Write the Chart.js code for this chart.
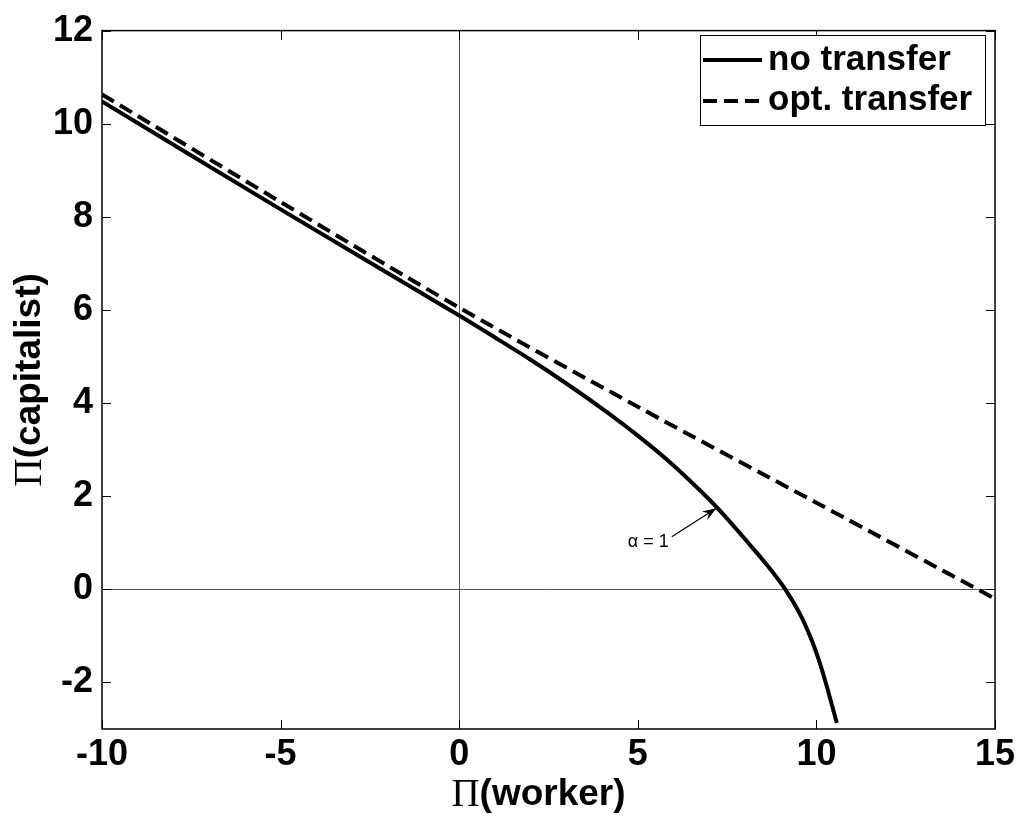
<!DOCTYPE html>
<html>
<head>
<meta charset="utf-8">
<script src="https://cdn.jsdelivr.net/npm/chart.js@4/dist/chart.umd.min.js"></script>
<style>
  html, body { margin: 0; padding: 0; background: #fff; }
  #wrap { width: 1020px; height: 816px; }
</style>
</head>
<body>
<div id="wrap"><canvas id="grafico" width="1020" height="816"></canvas></div>
<script>
// valores
const workerSemTransf = [-10, -5, 0, 1, 2, 3, 4, 5, 6, 7, 7.5, 8.09, 8.64, 9.13, 9.52, 9.82, 10.06, 10.26, 10.44, 10.57];
const capitalSemTransf = [10.48, 8.16, 5.88, 5.41, 4.93, 4.42, 3.88, 3.3, 2.66, 1.93, 1.52, 1.0, 0.5, 0, -0.5, -1, -1.5, -2, -2.5, -2.87];

const workerOptTransf = [-10, -5, 0, 5, 10, 15];
const capitalOptTransf = [10.63, 8.32, 6.05, 3.92, 1.86, -0.2];

const xTicks = [-10, -5, 0, 5, 10, 15];
const yTicks = [-2, 0, 2, 4, 6, 8, 10, 12];
const legendaLabels = ['no transfer', 'opt. transfer'];
const tituloX = '(worker)';
const tituloY = '(capitalist)';

const fonte = '"Liberation Sans", Arial, sans-serif';
const fonteSerif = '"Liberation Serif", "Times New Roman", serif';

function pares(xs, ys) {
    return xs.map((x, i) => ({ x: x, y: ys[i] }));
}

// desenha "Π" em serifa + resto em negrito, centrado em (cx, cy)
function tituloPi(ctx, texto, cx, cy) {
    ctx.font = '39px ' + fonteSerif;
    const wPi = ctx.measureText('\u03a0').width;
    ctx.font = 'bold 37px ' + fonte;
    const wTx = ctx.measureText(texto).width;
    let x = cx - (wPi + wTx) / 2;
    ctx.textAlign = 'left';
    ctx.textBaseline = 'middle';
    ctx.font = '39px ' + fonteSerif;
    ctx.fillText('\u03a0', x, cy + 1);
    ctx.font = 'bold 37px ' + fonte;
    ctx.fillText(texto, x + wPi, cy);
}

// moldura, ticks para dentro, títulos, legenda e anotação alfa
const extras = {
    id: 'extras',
    afterDatasetsDraw(chart) {
        const { ctx, chartArea: a, scales } = chart;
        const sx = scales.x, sy = scales.y;
        ctx.save();
        ctx.strokeStyle = '#000';
        ctx.lineWidth = 1;
        ctx.beginPath();
        xTicks.forEach(v => {
            const px = Math.round(sx.getPixelForValue(v)) + 0.5;
            ctx.moveTo(px, a.bottom); ctx.lineTo(px, a.bottom - 9);
            ctx.moveTo(px, a.top); ctx.lineTo(px, a.top + 9);
        });
        yTicks.forEach(v => {
            const py = Math.round(sy.getPixelForValue(v)) + 0.5;
            ctx.moveTo(a.left, py); ctx.lineTo(a.left + 9, py);
            ctx.moveTo(a.right, py); ctx.lineTo(a.right - 9, py);
        });
        ctx.stroke();
        ctx.lineWidth = 1.5;
        ctx.strokeRect(a.left, a.top, a.right - a.left, a.bottom - a.top);

        // títulos dos eixos
        ctx.fillStyle = '#000';
        tituloPi(ctx, tituloX, (a.left + a.right) / 2 - 10, 795);
        ctx.save();
        ctx.translate(30, (a.top + a.bottom) / 2);
        ctx.rotate(-Math.PI / 2);
        tituloPi(ctx, tituloY, 0, 0);
        ctx.restore();

        // anotação alfa = 1
        const x0 = sx.getPixelForValue(5.95), y0 = sy.getPixelForValue(1.13);
        const x1 = sx.getPixelForValue(7.2), y1 = sy.getPixelForValue(1.74);
        ctx.lineWidth = 1.2;
        ctx.beginPath(); ctx.moveTo(x0, y0); ctx.lineTo(x1, y1); ctx.stroke();
        const ang = Math.atan2(y1 - y0, x1 - x0);
        ctx.beginPath();
        ctx.moveTo(x1, y1);
        ctx.lineTo(x1 - 14 * Math.cos(ang) + 5 * Math.sin(ang), y1 - 14 * Math.sin(ang) - 5 * Math.cos(ang));
        ctx.lineTo(x1 - 9 * Math.cos(ang), y1 - 9 * Math.sin(ang));
        ctx.lineTo(x1 - 14 * Math.cos(ang) - 5 * Math.sin(ang), y1 - 14 * Math.sin(ang) + 5 * Math.cos(ang));
        ctx.closePath(); ctx.fill();
        ctx.font = '18px ' + fonte;
        ctx.textAlign = 'right';
        ctx.textBaseline = 'middle';
        ctx.fillText('\u03b1 = 1', x0 - 3, y0 + 5);

        // legenda
        const lx = 700, ly = 35, lw = 285, lh = 90;
        ctx.fillStyle = '#fff';
        ctx.fillRect(lx, ly, lw, lh);
        ctx.lineWidth = 1;
        ctx.strokeStyle = '#000';
        ctx.strokeRect(lx + 0.5, ly + 0.5, lw, lh);
        ctx.lineWidth = 4;
        ctx.beginPath();
        ctx.moveTo(lx + 3, ly + 25); ctx.lineTo(lx + 62, ly + 25);
        ctx.stroke();
        ctx.setLineDash([14, 7]);
        ctx.beginPath();
        ctx.moveTo(lx + 3, ly + 66); ctx.lineTo(lx + 62, ly + 66);
        ctx.stroke();
        ctx.setLineDash([]);
        ctx.fillStyle = '#000';
        ctx.font = 'bold 35px ' + fonte;
        ctx.textAlign = 'left';
        ctx.fillText(legendaLabels[0], lx + 68, ly + 25);
        ctx.fillText(legendaLabels[1], lx + 68, ly + 65);
        ctx.restore();
    }
};

const eixoComum = {
    type: 'linear',
    border: { display: false },
    grid: {
        drawTicks: false,
        lineWidth: 1,
        color: c => (c.tick && c.tick.value === 0 ? '#555' : 'rgba(0,0,0,0)')
    },
    ticks: {
        color: '#000',
        font: { family: fonte, size: 36, weight: 'bold' }
    }
};

new Chart(document.getElementById('grafico'), {
    type: 'line',
    data: {
        datasets: [
            {
                label: legendaLabels[0],
                data: pares(workerSemTransf, capitalSemTransf),
                borderColor: '#000',
                borderWidth: 4,
                pointRadius: 0,
                tension: 0.3,
                fill: false
            },
            {
                label: legendaLabels[1],
                data: pares(workerOptTransf, capitalOptTransf),
                borderColor: '#000',
                borderWidth: 4,
                borderDash: [14, 7],
                pointRadius: 0,
                tension: 0.3,
                fill: false
            }
        ]
    },
    options: {
        responsive: false,
        animation: false,
        layout: { padding: { top: 25, right: 25, left: 0, bottom: 0 } },
        plugins: { legend: { display: false }, tooltip: { enabled: false } },
        scales: {
            x: {
                ...eixoComum,
                min: -10, max: 15,
                afterBuildTicks: s => { s.ticks = xTicks.map(v => ({ value: v })); },
                afterFit: s => { s.height = 87; },
                ticks: { ...eixoComum.ticks, padding: 4, maxRotation: 0 }
            },
            y: {
                ...eixoComum,
                min: -3, max: 12,
                afterBuildTicks: s => { s.ticks = yTicks.map(v => ({ value: v })); },
                afterFit: s => { s.width = 102; },
                ticks: { ...eixoComum.ticks, padding: 9 }
            }
        }
    },
    plugins: [extras]
});
</script>
</body>
</html>
